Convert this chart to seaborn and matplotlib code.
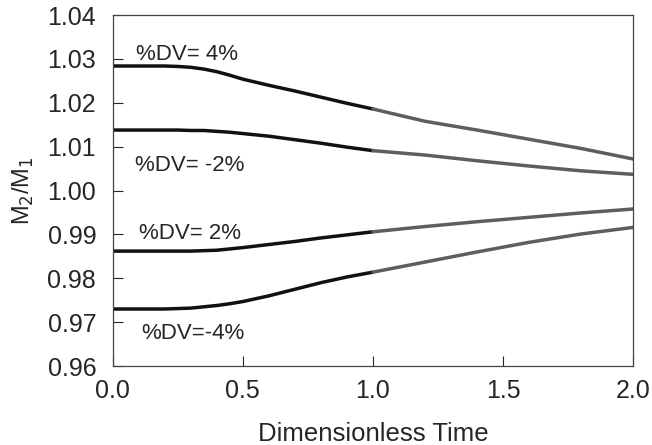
import numpy as np
import pandas as pd
import matplotlib
matplotlib.use("Agg")
import matplotlib.pyplot as plt
import seaborn as sns

# dimensionless time samples
t = [0.0, 0.1, 0.2, 0.25, 0.3, 0.35, 0.4, 0.45, 0.5, 0.6, 0.7, 0.8, 0.9, 1.0,
     1.2, 1.4, 1.6, 1.8, 2.0]

# M2/M1 for each %DV case
dv_pos4 = [1.0284, 1.0284, 1.0284, 1.0283, 1.0281, 1.0277, 1.0271, 1.0263, 1.0254, 1.0240,
           1.0227, 1.0213, 1.0199, 1.0186, 1.0158, 1.0138, 1.0117, 1.0096, 1.0072]
dv_neg2 = [1.0138, 1.0138, 1.0138, 1.0138, 1.0137, 1.0137, 1.0135, 1.0133, 1.0130, 1.0124,
           1.0116, 1.0108, 1.0099, 1.0091, 1.0081, 1.0068, 1.0056, 1.0045, 1.0037]
dv_pos2 = [0.9862, 0.9862, 0.9862, 0.9862, 0.9862, 0.9863, 0.9864, 0.9867, 0.9870, 0.9877,
           0.9884, 0.9892, 0.9899, 0.9906, 0.9918, 0.9929, 0.9939, 0.9949, 0.9958]
dv_neg4 = [0.9730, 0.9730, 0.9730, 0.9731, 0.9732, 0.9735, 0.9738, 0.9742, 0.9747, 0.9760,
           0.9775, 0.9790, 0.9803, 0.9814, 0.9837, 0.9860, 0.9882, 0.9901, 0.9916]

series = {"4": dv_pos4, "-2": dv_neg2, "2": dv_pos2, "-4": dv_neg4}
labels = ["%DV= 4%", "%DV= -2%", "%DV= 2%", "%DV=-4%"]
label_x = [0.088, 0.085, 0.101, 0.110]
label_y = [1.0311, 1.0058, 0.9901, 0.9675]

rows = []
for name, vals in series.items():
    for ti, v in zip(t, vals):
        # black up to t = 1, grey after (shared point so segments join)
        if ti <= 1.0:
            rows.append({"t": ti, "ratio": v, "case": name, "seg": "early"})
        if ti >= 1.0:
            rows.append({"t": ti, "ratio": v, "case": name, "seg": "late"})
df = pd.DataFrame(rows)

sns.set_style("ticks")
plt.rcParams["font.family"] = ["Liberation Sans", "DejaVu Sans"]

fig = plt.figure(figsize=(6.52, 4.45), dpi=100)
ax = fig.add_axes([0.173, 0.1775, 0.798, 0.7885])

sns.lineplot(data=df, x="t", y="ratio", units="case", hue="seg", estimator=None,
             palette={"early": "#111111", "late": "#5e5e5e"}, linewidth=2.5,
             legend=False, ax=ax)

for lab, lx, ly in zip(labels, label_x, label_y):
    ax.text(lx, ly, lab, fontsize=16, va="center", ha="left")

yt = np.arange(0.96, 1.0401, 0.01)
ax.set_xlim(0, 2)
ax.set_ylim(0.96, 1.04)
ax.set_xticks([0, 0.5, 1.0, 1.5, 2.0])
ax.set_xticklabels(["0.0", "0.5", "1.0", "1.5", "2.0"])
ax.set_yticks(yt)
ax.set_yticklabels([f"{v:.2f}" for v in yt])
ax.tick_params(direction="in", length=7, width=0.8, labelsize=18)
ax.tick_params(axis="x", pad=9)
ax.tick_params(axis="y", pad=12)
ax.set_xlabel("Dimensionless Time", fontsize=18.5, labelpad=14)
ax.set_ylabel("M$_2$/M$_1$", fontsize=17, labelpad=8)
for s in ax.spines.values():
    s.set_linewidth(0.9)
    s.set_color("#444444")

fig.savefig("out.png", dpi=100)
